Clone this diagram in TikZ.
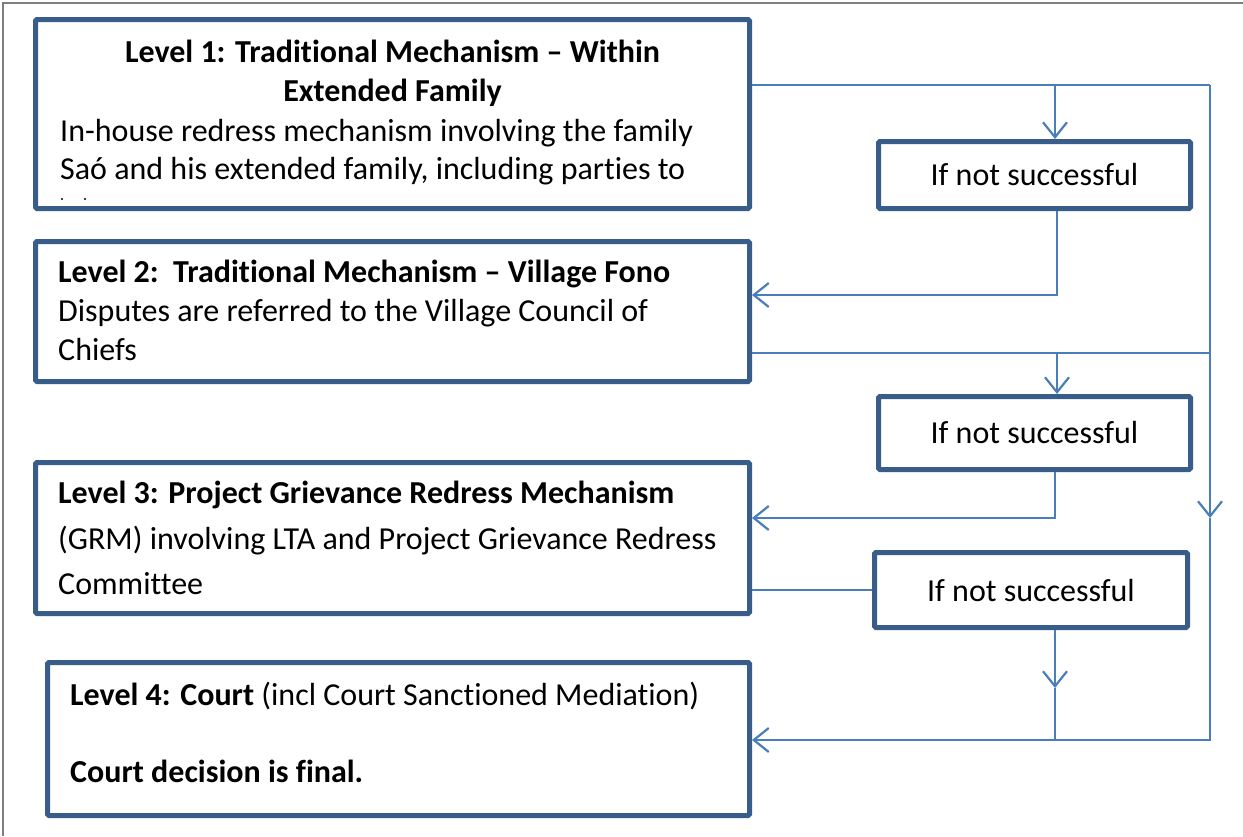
\documentclass[tikz,border=0pt]{standalone}
\usepackage{fontspec}
\setmainfont{Carlito}[Ligatures={NoCommon}]
\usetikzlibrary{arrows.meta}
\definecolor{boxc}{HTML}{385D8A}
\definecolor{linec}{HTML}{4A7EBB}
\definecolor{framec}{HTML}{7F7F7F}
\begin{document}
\begin{tikzpicture}[x=1pt,y=-1pt,
  box/.style={draw=boxc,line width=5pt,rounded corners=1.5pt,inner sep=0pt},
  conn/.style={draw=linec,line width=2.2pt},
  arr/.style={conn,-{Straight Barb[length=15pt,width=24pt,line width=2.2pt]}},
  txt/.style={inner sep=0pt,anchor=base west,font=\fontsize{32}{38}\selectfont},
  ctxt/.style={txt,anchor=base},
  ifbox/.style={box,font=\fontsize{32}{38}\selectfont}]
\useasboundingbox (0,0) rectangle (1243,836);
\draw[framec,line width=2pt] (3,836) -- (3,3) -- (1243,3);

% level boxes
\node[box,minimum width=714pt,minimum height=189pt] (b1) at (392.5,114) {};
\node[box,minimum width=714pt,minimum height=140pt] (b2) at (392.5,311.5) {};
\node[box,minimum width=714pt,minimum height=151pt] (b3) at (392.5,538) {};
\node[box,minimum width=702pt,minimum height=153pt] (b4) at (398.5,739) {};

% if-not boxes
\node[ifbox,minimum width=312pt,minimum height=67pt] (if1) at (1034.5,175) {If not successful};
\node[ifbox,minimum width=312pt,minimum height=73pt] (if2) at (1034.5,433) {If not successful};
\node[ifbox,minimum width=313pt,minimum height=75pt] (if3) at (1031,590) {If not successful};

% texts
\node[ctxt] (t1a) at (392.5,62) {\bfseries Level 1: Traditional Mechanism – Within};
\node[ctxt] (t1b) at (392.5,101) {\bfseries Extended Family};
\node[txt] (t1c) at (60,141) {In-house redress mechanism involving the family};
\node[txt] (t1d) at (60,179) {Saó and his extended family, including parties to};
\fill (62,199) circle (1.2pt) (85,199) circle (1.2pt);

\node[txt] (t2a) at (58,282) {\bfseries Level 2:\ \ Traditional Mechanism – Village Fono};
\node[txt] (t2b) at (58,321) {Disputes are referred to the Village Council of};
\node[txt] (t2c) at (58,360) {Chiefs};

\node[txt] (t3a) at (58,503) {\bfseries Level 3: Project Grievance Redress Mechanism};
\node[txt] (t3b) at (58,549) {(GRM) involving LTA and Project Grievance Redress};
\node[txt] (t3c) at (58,594) {Committee};

\node[txt] (t4a) at (70,705) {\textbf{Level 4: Court} (incl Court Sanctioned Mediation)};
\node[txt] (t4b) at (70,782) {\bfseries Court decision is final.};

% connector coordinates
\coordinate (r1) at (1210,85);
\coordinate (j1) at (1055,85);
\coordinate (k1) at (1057,295);
\coordinate (r2) at (1210,353);
\coordinate (j2) at (1057,353);
\coordinate (k2) at (1055,518);
\coordinate (r3) at (1210,518);
\coordinate (m3) at (1055,688);
\coordinate (k4) at (1055,740);
\coordinate (r4) at (1210,740);

% connectors
\draw[conn] (b1.east |- r1) -- (r1);
\draw[arr] (j1) -- (j1 |- if1.north);
\draw[arr] (if1.south -| k1) -- (k1) -- (k1 -| b2.east);
\draw[conn] (b2.east |- r2) -- (r2);
\draw[arr] (j2) -- (j2 |- if2.north);
\draw[arr] (if2.south -| k2) -- (k2) -- (k2 -| b3.east);
\draw[conn] (b3.east |- if3.west) -- (if3.west);
\draw[arr] (if3.south -| m3) -- (m3);
\draw[conn] (m3) -- (k4);
\draw[arr] (r1) -- (r3);
\draw[conn] (r3) -- (r4) -- (k4);
\draw[arr] (k4) -- (k4 -| b4.east);
\end{tikzpicture}
\end{document}
